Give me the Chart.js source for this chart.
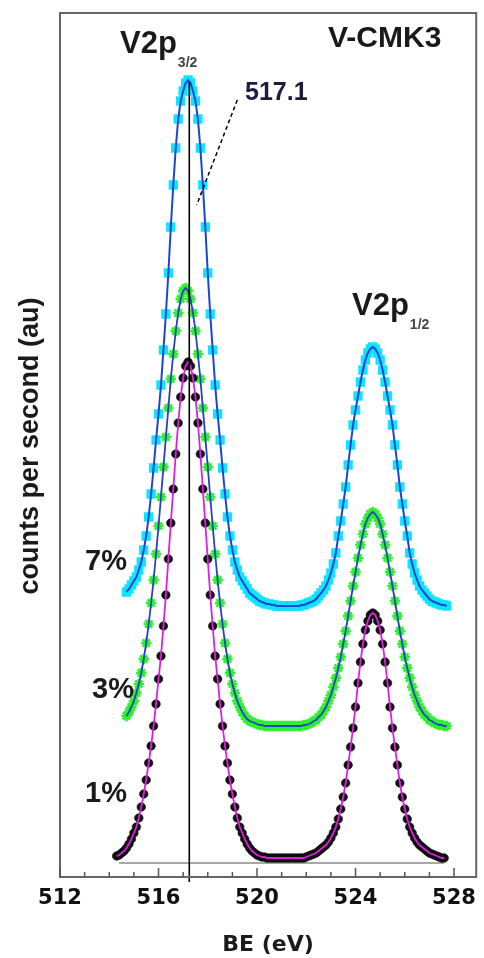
<!DOCTYPE html>
<html>
<head>
<meta charset="utf-8">
<title>V2p XPS – V-CMK3</title>
<script src="https://cdn.jsdelivr.net/npm/chart.js@4.4.1/dist/chart.umd.min.js"></script>
<style>
  html, body { margin: 0; padding: 0; background: #fff; }
  #wrap { width: 484px; height: 958px; }
</style>
</head>
<body>
<div id="wrap"><canvas id="xps" width="484" height="958"></canvas></div>
<script>
/* ── Data (binding energy grid, eV) ── */
const beGrid = [
  514.3, 514.4, 514.5, 514.6, 514.7, 514.8, 514.9,
  515.0, 515.1, 515.2, 515.3, 515.4, 515.5, 515.6, 515.7, 515.8, 515.9,
  516.0, 516.1, 516.2, 516.3, 516.4, 516.5, 516.6, 516.7, 516.8, 516.9,
  517.0, 517.1, 517.2, 517.3, 517.4, 517.5, 517.6, 517.7, 517.8, 517.9,
  518.0, 518.1, 518.2, 518.3, 518.4, 518.5, 518.6, 518.7, 518.8, 518.9,
  519.0, 519.1, 519.2, 519.3, 519.4, 519.5, 519.6, 519.7, 519.8, 519.9,
  520.0, 520.1, 520.2, 520.3, 520.4, 520.5, 520.6, 520.7, 520.8, 520.9,
  521.0, 521.1, 521.2, 521.3, 521.4, 521.5, 521.6, 521.7, 521.8, 521.9,
  522.0, 522.1, 522.2, 522.3, 522.4, 522.5, 522.6, 522.7, 522.8, 522.9,
  523.0, 523.1, 523.2, 523.3, 523.4, 523.5, 523.6, 523.7, 523.8, 523.9,
  524.0, 524.1, 524.2, 524.3, 524.4, 524.5, 524.6, 524.7, 524.8, 524.9,
  525.0, 525.1, 525.2, 525.3, 525.4, 525.5, 525.6, 525.7, 525.8, 525.9,
  526.0, 526.1, 526.2, 526.3, 526.4, 526.5, 526.6, 526.7, 526.8, 526.9,
  527.0, 527.1, 527.2, 527.3, 527.4, 527.5, 527.6, 527.7
];

// counts (au), one value per grid point, null = not measured
const counts1 = [
  21, 22, 24, 26, 29, 33, 38,
  44, 50, 59, 70, 83, 97, 114, 131, 151, 173,
  198, 221, 251, 282, 318, 354, 388, 423, 454, 480,
  499, 511, 515, 511, 499, 480, 454, 423, 388, 354,
  318, 282, 251, 221, 198, 173, 151, 131, 114, 97,
  83, 70, 59, 50, 44, 38, 33, 29, 26, 24,
  22, 21, 20, 20, 19, 19, 19, 19, 19, 19,
  19, 19, 19, 19, 19, 19, 19, 19, 19, 19,
  20, 21, 22, 23, 24, 26, 28, 30, 32, 35,
  39, 44, 50, 58, 68, 80, 94, 112, 130, 149,
  170, 194, 215, 233, 247, 256, 262, 264, 262, 256,
  247, 233, 215, 194, 170, 149, 130, 112, 94, 80,
  68, 58, 50, 44, 39, 35, 32, 30, 28, 26,
  24, 23, 22, 21, 20, 19, 19, null
];

const counts3 = [
  null, null, null, null, 161, 165, 170,
  176, 184, 193, 204, 218, 234, 253, 274, 297, 323,
  351, 380, 410, 440, 469, 498, 523, 546, 564, 578,
  586, 589, 586, 578, 564, 546, 523, 498, 469, 440,
  410, 380, 351, 323, 297, 274, 253, 234, 218, 204,
  193, 184, 176, 170, 165, 161, 158, 156, 155, 154,
  153, 152, 152, 151, 151, 151, 151, 151, 151, 151,
  151, 151, 151, 151, 151, 151, 151, 151, 151, 152,
  152, 153, 154, 156, 157, 160, 162, 166, 170, 176,
  182, 190, 199, 209, 220, 233, 246, 261, 276, 291,
  305, 319, 332, 343, 353, 359, 363, 365, 363, 359,
  353, 343, 332, 319, 305, 291, 276, 261, 246, 233,
  220, 209, 199, 190, 182, 176, 170, 166, 162, 160,
  157, 156, 154, 153, 152, 152, 151, 151
];

const counts7 = [
  null, null, null, null, 285, 288, 292,
  296, 300, 307, 315, 327, 341, 360, 383, 409, 437,
  463, 492, 527, 563, 604, 650, 692, 729, 758, 776,
  786, 794, 797, 794, 786, 776, 758, 729, 692, 650,
  604, 563, 527, 492, 463, 437, 409, 383, 360, 341,
  327, 315, 307, 300, 296, 292, 288, 284, 282, 280,
  278, 276, 275, 274, 273, 273, 272, 272, 271, 271,
  271, 271, 271, 271, 271, 271, 271, 271, 272, 272,
  273, 274, 275, 276, 278, 281, 284, 287, 291, 297,
  304, 313, 324, 341, 356, 373, 390, 412, 432, 452,
  467, 481, 495, 507, 517, 524, 528, 530, 528, 524,
  517, 507, 495, 481, 467, 452, 432, 412, 390, 373,
  356, 341, 324, 313, 304, 297, 291, 287, 284, 281,
  278, 276, 275, 274, 273, 272, 272, 271
];

const seriesLabels = ['1%', '3%', '7%'];
const xMajorTicks  = [512, 516, 520, 524, 528];

// reference marker for the V2p3/2 position
const peakLineBE   = 517.25;
const peakLineY    = [795, -5];
const peakLabel    = '517.1';
const leaderBE     = [519.2, 517.55];
const leaderY      = [777, 672];
// instrument baseline under the 1% trace
const baseBE       = [514.4, 527.6];
const baseY        = [14, 14];

/* ── Helpers ── */
const toPts = arr => beGrid.map((x, i) => arr[i] == null ? null : { x, y: arr[i] }).filter(Boolean);
const pair  = (xs, ys) => xs.map((x, i) => ({ x, y: ys[i] }));

const FONT  = '"Liberation Sans", Arial, sans-serif';
const WIDE  = '"DejaVu Sans", Verdana, sans-serif';

/* ── Overlay: frame, inner ticks, annotations ── */
const overlay = {
  id: 'overlay',
  afterDraw(chart) {
    const { ctx, chartArea: a, scales: { x, y } } = chart;
    ctx.save();

    // frame
    ctx.strokeStyle = '#666';
    ctx.lineWidth = 2;
    ctx.strokeRect(a.left, a.top, a.right - a.left, a.bottom - a.top);

    // inner tick marks, every 1 eV, long at labelled ones
    ctx.lineWidth = 1.5;
    ctx.strokeStyle = '#555';
    for (let v = 512; v <= 528; v++) {
      const px = x.getPixelForValue(v);
      const len = xMajorTicks.includes(v) ? 9 : 5;
      ctx.beginPath();
      ctx.moveTo(px, a.bottom);
      ctx.lineTo(px, a.bottom - len);
      ctx.stroke();
    }

    // dashed leader to the peak label
    ctx.strokeStyle = '#000';
    ctx.lineWidth = 1.5;
    ctx.setLineDash([4, 3]);
    ctx.beginPath();
    ctx.moveTo(x.getPixelForValue(leaderBE[0]), y.getPixelForValue(leaderY[0]));
    ctx.lineTo(x.getPixelForValue(leaderBE[1]), y.getPixelForValue(leaderY[1]));
    ctx.stroke();
    ctx.setLineDash([]);

    // texts
    ctx.fillStyle = '#1a1a1a';
    ctx.textBaseline = 'alphabetic';
    ctx.textAlign = 'left';

    ctx.font = 'bold 31px ' + FONT;
    ctx.fillText('V2p', 120, 53);
    let w = ctx.measureText('V2p').width;
    ctx.font = 'bold 14px ' + FONT;
    ctx.fillStyle = '#444';
    ctx.fillText('3/2', 121 + w, 67);

    ctx.fillStyle = '#1a1a1a';
    ctx.font = 'bold 31px ' + FONT;
    ctx.fillText('V2p', 352, 315);
    w = ctx.measureText('V2p').width;
    ctx.font = 'bold 14px ' + FONT;
    ctx.fillStyle = '#444';
    ctx.fillText('1/2', 353 + w, 329);

    ctx.fillStyle = '#1a1a1a';
    ctx.font = 'bold 30px ' + FONT;
    ctx.fillText('V-CMK3', 328, 47);

    ctx.fillStyle = '#1c1c3c';
    ctx.font = 'bold 25px ' + FONT;
    ctx.fillText(peakLabel, 245, 100);

    ctx.fillStyle = '#1a1a1a';
    ctx.font = 'bold 29px ' + FONT;
    ctx.fillText(seriesLabels[2], 85, 570);
    ctx.fillText(seriesLabels[1], 92, 698);
    ctx.fillText(seriesLabels[0], 85, 802);

    // y title
    ctx.translate(31, 446);
    ctx.rotate(-Math.PI / 2);
    ctx.textAlign = 'center';
    ctx.textBaseline = 'middle';
    ctx.font = 'bold 27px ' + FONT;
    ctx.fillText('counts per second (au)', 0, 0);

    ctx.restore();
  }
};

/* ── Chart ── */
new Chart(document.getElementById('xps'), {
  type: 'scatter',
  data: {
    datasets: [
      { label: 'ref', data: pair([peakLineBE, peakLineBE], peakLineY), showLine: true,
        borderColor: '#000', borderWidth: 1.6, pointRadius: 0, clip: false },
      { label: seriesLabels[0] + ' fit', data: toPts(counts1), showLine: true,
        borderColor: '#e01ee0', borderWidth: 1.8, pointRadius: 0 },
      { label: seriesLabels[0], data: toPts(counts1), showLine: false,
        pointStyle: 'circle', pointRadius: 4.3, backgroundColor: '#111', borderColor: '#000', borderWidth: 0.5 },
      { label: seriesLabels[1] + ' fit', data: toPts(counts3), showLine: true,
        borderColor: '#2740c8', borderWidth: 1.8, pointRadius: 0 },
      { label: seriesLabels[1], data: toPts(counts3), showLine: false,
        pointStyle: 'star', pointRadius: 5.2, backgroundColor: '#2ef02e', borderColor: '#2ef02e', borderWidth: 2.6 },
      { label: seriesLabels[2] + ' fit', data: toPts(counts7), showLine: true,
        borderColor: '#1a46d6', borderWidth: 2, pointRadius: 0 },
      { label: seriesLabels[2], data: toPts(counts7), showLine: false,
        pointStyle: 'rect', pointRadius: 6.6, backgroundColor: '#10e4fc', borderColor: '#10e4fc', borderWidth: 0 },
      { label: 'base', data: pair(baseBE, baseY), showLine: true,
        borderColor: '#8a8a8a', borderWidth: 1.5, pointRadius: 0 }
    ]
  },
  options: {
    responsive: false,
    animation: false,
    devicePixelRatio: 1,
    layout: { padding: { top: 13, right: 1, left: 0, bottom: 0 } },
    plugins: { legend: { display: false }, tooltip: { enabled: false } },
    scales: {
      x: {
        type: 'linear', min: 512, max: 528.9,
        afterFit: s => { s.height = 81; },
        afterBuildTicks: s => { s.ticks = xMajorTicks.map(v => ({ value: v })); },
        grid: { display: false }, border: { display: false },
        ticks: {
          autoSkip: false, maxRotation: 0, padding: 1,
          color: '#111', font: { family: WIDE, weight: 'bold', size: 21 },
          callback: v => String(v)
        },
        title: {
          display: true, text: 'BE (eV)', color: '#1a1a1a', padding: { top: 0, bottom: 0 },
          font: { family: WIDE, weight: 'bold', size: 22 }
        }
      },
      y: {
        min: 0, max: 864,
        afterFit: s => { s.width = 60; },
        grid: { display: false }, border: { display: false },
        ticks: { display: false }
      }
    }
  },
  plugins: [overlay]
});
</script>
</body>
</html>
